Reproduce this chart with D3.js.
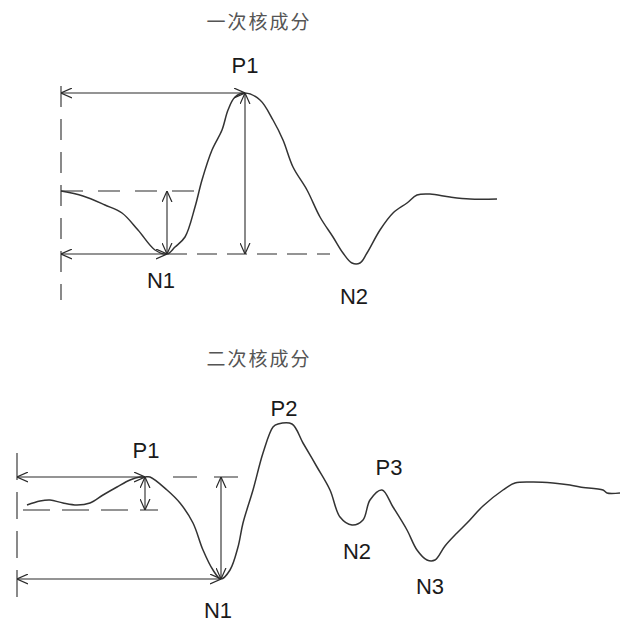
<!DOCTYPE html>
<html>
<head>
<meta charset="utf-8">
<script src="https://cdn.jsdelivr.net/npm/d3@7"></script>
<style>
  body { margin: 0; background: #fff; }
  .wave { fill: none; stroke: #333; stroke-width: 1.5; stroke-linejoin: round; }
  .arrow { fill: none; stroke: #2a2a2a; stroke-width: 1.1; }
  .dash { fill: none; stroke: #2a2a2a; stroke-width: 1.1; }
  .peak { font-family: "Liberation Sans", Arial, sans-serif; font-size: 22px; fill: #1a1a1a; }
  .title { font-family: "Noto Sans CJK SC", sans-serif; font-size: 19px; fill: #555; letter-spacing: 2px; }
</style>
</head>
<body>
<div id="vis"></div>
<script>
var width = 627;
var height = 621;

// 一次核成分 waveform (time in ms-like units, amplitude relative to baseline)
var topTime = [0, 22, 44, 61, 77, 94, 106, 114, 124, 134, 141, 151, 161, 167, 174, 184,
    199, 212, 222, 232, 246, 259, 272, 282, 291, 299, 306, 319, 332, 346, 356, 369, 389, 409, 436];
var topAmp = [0, -0.5, -1.4, -2.2, -3.9, -5.9, -6.3, -5.6, -4.6, -1.6, 1.1, 4.1, 6.1, 8.1, 9.4, 9.8,
    9.1, 7.1, 5.1, 2.4, 0.1, -2.6, -4.6, -6.2, -7.2, -7.2, -6.2, -3.9, -2.2, -1.2, -0.4, -0.3, -0.6, -0.8, -0.8];
var topPeakNames = ['P1', 'N1', 'N2'];
var topPeakTime = [184, 106, 295];
var topPeakAmp = [9.8, -6.3, -7.2];

// 二次核成分 waveform
var bottomTime = [10, 23, 33, 46, 60, 73, 86, 100, 113, 123, 128, 133, 150, 163, 176, 186, 196, 204,
    213, 221, 226, 236, 246, 256, 261, 275, 286, 300, 313, 323, 335, 346, 353, 365, 376, 390, 400,
    410, 418, 428, 440, 450, 466, 486, 498, 516, 536, 553, 563, 586, 590, 603];
var bottomAmp = [0.5, 0.9, 1.0, 0.7, 0.5, 0.7, 1.5, 2.3, 3.0, 3.3, 3.3, 3.3, 2.0, 0.7, -1.3, -4.0, -6.0, -6.9,
    -6.0, -3.7, -1.3, 2.0, 5.7, 8.3, 8.6, 8.6, 6.7, 4.3, 2.0, -0.7, -1.5, -1.0, 1.0, 2.0, 0.3, -2.0, -4.0,
    -5.0, -5.0, -3.6, -2.3, -1.3, 0.4, 2.0, 2.7, 2.8, 2.7, 2.5, 2.3, 2.0, 1.7, 1.7];
var bottomPeakNames = ['P1', 'N1', 'P2', 'N2', 'P3', 'N3'];
var bottomPeakTime = [128, 204, 267, 335, 365, 414];
var bottomPeakAmp = [3.3, -6.9, 8.6, -1.5, 2.0, -5.0];

var titles = ['一次核成分', '二次核成分'];

// label offsets from their peak, in pixels
var topLabelOffset = [[0, -28], [-6, 26], [-2, 33]];
var bottomLabelOffset = [[1, -27], [-3, 31], [0, -16], [5, 26], [7, -23], [-1, 26]];

var svg = d3.select('#vis')
    .append('svg')
    .attr('width', width)
    .attr('height', height);

// open chevron arrowhead
svg.append('defs').append('marker')
    .attr('id', 'head')
    .attr('viewBox', '0 -5 10 10')
    .attr('refX', 10)
    .attr('refY', 0)
    .attr('markerUnits', 'userSpaceOnUse')
    .attr('markerWidth', 11)
    .attr('markerHeight', 11)
    .attr('orient', 'auto-start-reverse')
    .append('path')
    .attr('d', 'M0,-4.5L10,0L0,4.5')
    .attr('fill', 'none')
    .attr('stroke', '#2a2a2a')
    .attr('stroke-width', 1.1);

function seg(g, x1, y1, x2, y2, cls, dash) {
    var l = g.append('line')
        .attr('class', cls)
        .attr('x1', x1).attr('y1', y1)
        .attr('x2', x2).attr('y2', y2);
    if (cls == 'arrow') {
        l.attr('marker-start', 'url(#head)').attr('marker-end', 'url(#head)');
    }
    if (dash) l.attr('stroke-dasharray', dash);
    return l;
}

function drawWave(g, x, y, times, amps) {
    var line = d3.line()
        .curve(d3.curveCatmullRom.alpha(0.5))
        .x(function (d) { return x(d[0]); })
        .y(function (d) { return y(d[1]); });
    g.append('path')
        .attr('class', 'wave')
        .attr('d', line(d3.zip(times, amps)));
}

function drawLabels(g, x, y, names, times, amps, offsets) {
    g.selectAll('text.peak')
        .data(names)
        .enter().append('text')
        .attr('class', 'peak')
        .attr('text-anchor', 'middle')
        .attr('dominant-baseline', 'central')
        .attr('x', function (d, i) { return x(times[i]) + offsets[i][0]; })
        .attr('y', function (d, i) { return y(amps[i]) + offsets[i][1]; })
        .text(function (d) { return d; });
}

// ---- top panel ----
var xTop = d3.scaleLinear().domain([0, 436]).range([61, 497]);
var yTop = d3.scaleLinear().domain([-8, 11]).range([271, 81]);
var gTop = svg.append('g');

gTop.append('text').attr('class', 'title')
    .attr('x', 259).attr('y', 20)
    .attr('text-anchor', 'middle').attr('dominant-baseline', 'central')
    .text(titles[0]);

var tP1 = topPeakTime[0], aP1 = topPeakAmp[0];
var tN1 = topPeakTime[1], aN1 = topPeakAmp[1];
seg(gTop, xTop(0), yTop(10.5), xTop(0), yTop(-10.9), 'dash', '21,12');
seg(gTop, xTop(0), yTop(0), xTop(148), yTop(0), 'dash', '22,15');
seg(gTop, xTop(tN1), yTop(aN1), xTop(269), yTop(aN1), 'dash', '20,10');
drawWave(gTop, xTop, yTop, topTime, topAmp);
seg(gTop, xTop(0), yTop(aP1), xTop(tP1), yTop(aP1), 'arrow');
seg(gTop, xTop(tP1), yTop(aP1), xTop(tP1), yTop(aN1), 'arrow');
seg(gTop, xTop(0), yTop(aN1), xTop(tN1), yTop(aN1), 'arrow');
seg(gTop, xTop(tN1), yTop(0), xTop(tN1), yTop(aN1), 'arrow');
drawLabels(gTop, xTop, yTop, topPeakNames, topPeakTime, topPeakAmp, topLabelOffset);

// ---- bottom panel ----
var xBot = d3.scaleLinear().domain([0, 603]).range([17, 620]);
var yBot = d3.scaleLinear().domain([-10, 10]).range([610, 410]);
var gBot = svg.append('g');

gBot.append('text').attr('class', 'title')
    .attr('x', 259).attr('y', 357)
    .attr('text-anchor', 'middle').attr('dominant-baseline', 'central')
    .text(titles[1]);

var bP1 = bottomPeakTime[0], bA1 = bottomPeakAmp[0];
var bN1 = bottomPeakTime[1], bAN1 = bottomPeakAmp[1];
seg(gBot, xBot(0), yBot(5.7), xBot(0), yBot(-9.3), 'dash', '27,12');
seg(gBot, xBot(6), yBot(0), xBot(141), yBot(0), 'dash', '27,12');
seg(gBot, xBot(156), yBot(bA1), xBot(221), yBot(bA1), 'dash', '24,17');
drawWave(gBot, xBot, yBot, bottomTime, bottomAmp);
seg(gBot, xBot(0), yBot(bA1), xBot(bP1), yBot(bA1), 'arrow');
seg(gBot, xBot(bP1), yBot(bA1), xBot(bP1), yBot(0), 'arrow');
seg(gBot, xBot(bN1), yBot(bA1), xBot(bN1), yBot(bAN1), 'arrow');
seg(gBot, xBot(0), yBot(bAN1), xBot(bN1), yBot(bAN1), 'arrow');
drawLabels(gBot, xBot, yBot, bottomPeakNames, bottomPeakTime, bottomPeakAmp, bottomLabelOffset);
</script>
</body>
</html>
